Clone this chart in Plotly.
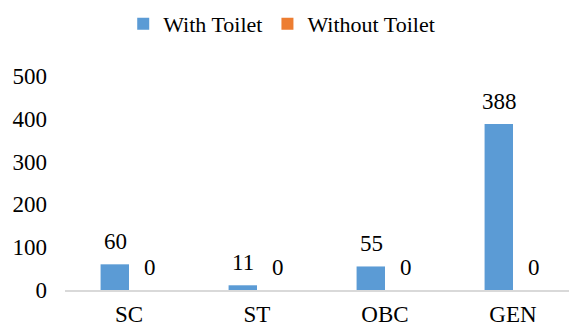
import plotly.graph_objects as go

categories = ["SC", "ST", "OBC", "GEN"]
with_toilet = [60, 11, 55, 388]
without_toilet = [0, 0, 0, 0]
y_ticks = [0, 100, 200, 300, 400, 500]

FONT = "Times New Roman"
BLUE = "#5B9BD5"
ORANGE = "#ED7D31"

fig = go.Figure()
fig.add_trace(go.Bar(name="With Toilet", x=categories, y=with_toilet,
                     marker=dict(color=BLUE, line=dict(width=0))))
fig.add_trace(go.Bar(name="Without Toilet", x=categories, y=without_toilet,
                     marker=dict(color=ORANGE, line=dict(width=0))))

annotations = []
for c, v in zip(categories, with_toilet):
    annotations.append(dict(x=c, y=v, text=str(v), showarrow=False, xref="x", yref="y",
                            xanchor="center", yanchor="bottom", xshift=-14, yshift=8,
                            font=dict(family=FONT, size=23, color="#000")))
for c, v in zip(categories, without_toilet):
    annotations.append(dict(x=c, y=v, text=str(v), showarrow=False, xref="x", yref="y",
                            xanchor="center", yanchor="bottom", xshift=21, yshift=8,
                            font=dict(family=FONT, size=23, color="#000")))

fig.update_layout(
    width=569, height=328,
    margin=dict(l=65, r=0, t=76, b=38),
    paper_bgcolor="white", plot_bgcolor="white",
    font=dict(family=FONT, size=23, color="#000"),
    barmode="group", bargap=0.556, bargroupgap=0,
    showlegend=True,
    legend=dict(orientation="h", x=0.43, xanchor="center", y=1.243, yanchor="middle",
                font=dict(family=FONT, size=22, color="#000"), traceorder="normal",
                itemwidth=30),
    annotations=annotations,
    xaxis=dict(showgrid=False, showline=True, linecolor="#D9D9D9", linewidth=1.5,
               ticks="", ticklabelstandoff=3, automargin=False, range=[-0.5, 3.4375],
               tickfont=dict(family=FONT, size=23, color="#000")),
    yaxis=dict(range=[0, 500], tickvals=y_ticks, showgrid=False, zeroline=False,
               showline=False, ticks="", ticklabelstandoff=17, automargin=False,
               tickfont=dict(family=FONT, size=23, color="#000")),
)

fig.write_html("out.html")
